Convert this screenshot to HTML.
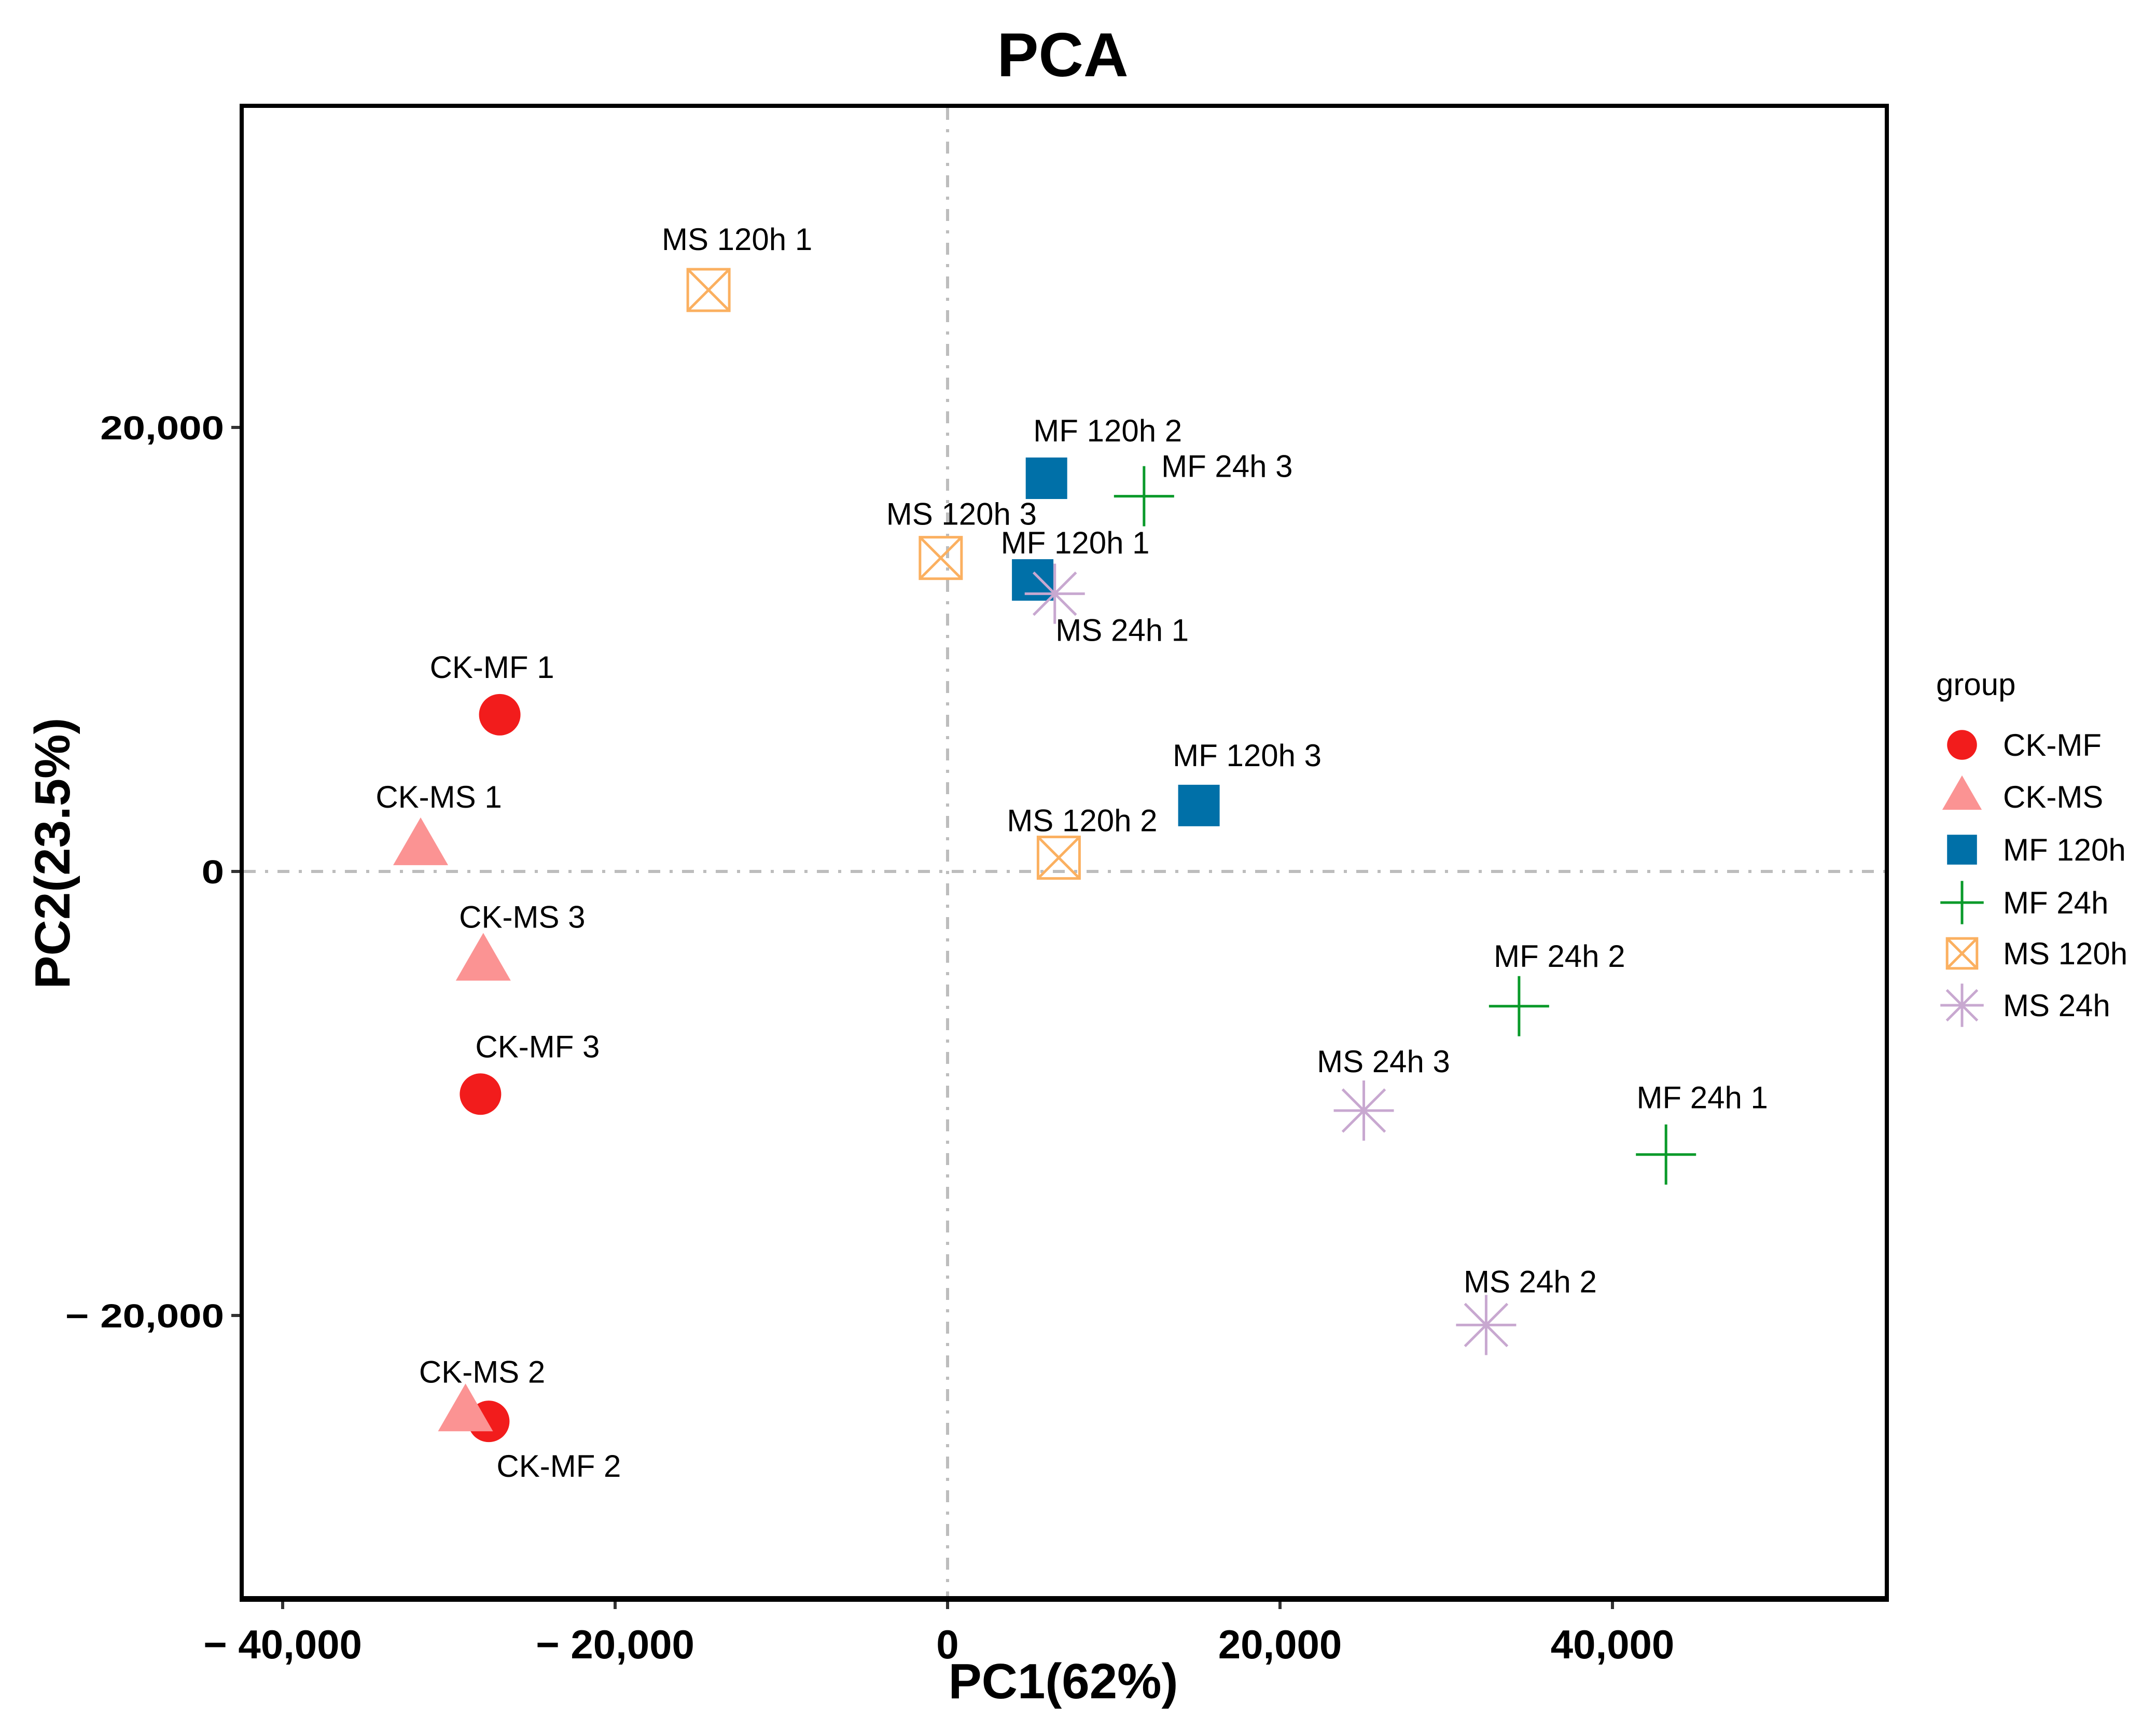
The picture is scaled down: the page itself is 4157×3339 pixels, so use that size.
<!DOCTYPE html>
<html><head><meta charset="utf-8"><style>
html,body{margin:0;padding:0;background:#fff;}
svg{display:block;font-family:"Liberation Sans",sans-serif;}
</style></head><body>
<svg id="chart" width="4157" height="3339" viewBox="0 0 4157 3339" xmlns="http://www.w3.org/2000/svg">
<rect width="4157" height="3339" fill="#fff"/>
<text x="2049" y="147" font-size="120" font-weight="bold" text-anchor="middle">PCA</text>
<g id="plot"></g>
<rect x="466" y="204" width="3172" height="2877" fill="none" stroke="#000" stroke-width="8"/>
<line x1="462" x2="3642" y1="3083" y2="3083" stroke="#000" stroke-width="10"/>
<text x="2050" y="3274" font-size="96" font-weight="bold" text-anchor="middle">PC1(62%)</text>
<text transform="translate(134,1645) rotate(-90)" font-size="96" font-weight="bold" text-anchor="middle">PC2(23.5%)</text>
<g id="legend"></g>
</svg>
<script>
const groups = ["CK-MF","CK-MS","MF 120h","MF 24h","MS 120h","MS 24h"];
const sampleNames = ["CK-MF 1","CK-MF 2","CK-MF 3","CK-MS 1","CK-MS 2","CK-MS 3","MF 120h 1","MF 120h 2","MF 120h 3","MF 24h 1","MF 24h 2","MF 24h 3","MS 120h 1","MS 120h 2","MS 120h 3","MS 24h 1","MS 24h 2","MS 24h 3"];
const sampleGroup = [0,0,0,1,1,1,2,2,2,3,3,3,4,4,4,5,5,5];
const pc1 = [-26940,-27600,-28100,-31700,-29000,-27930,5120,5950,15120,43220,34380,11820,-14380,6690,-410,6450,32400,25040];
const pc2 = [7060,-24770,-10030,1100,-24400,-4100,13130,17710,2970,-12750,-6070,16900,26190,620,14120,12510,-20430,-10770];
const xTicks = [-40000,-20000,0,20000,40000];
const yTicks = [-20000,0,20000];
const xTickLabels = ["\u2212 40,000","\u2212 20,000","0","20,000","40,000"];
const yTickLabels = ["\u2212 20,000","0","20,000"];
// label offsets (px) from point, from ggrepel placement
const labelDx = [-15,135,110,35,32,75,82,118,93,70,78,160,55,45,40,130,85,38];
const labelDy = [-92,86,-92,-97,-80,-88,-72,-92,-97,-110,-97,-58,-98,-72,-85,70,-84,-95];

const colors = ["#f21c1c","#fb9393","#0070a8","#0a9a2a","#fbb060","#c8a8d0"];
const NS="http://www.w3.org/2000/svg";
const X0=1827, XS=641/20000, Y0=1680, YS=856/20000;
const sx=v=>X0+v*XS, sy=v=>Y0-v*YS;
function mk(t,a,p){const e=document.createElementNS(NS,t);for(const k in a)e.setAttribute(k,a[k]);p.appendChild(e);return e;}
const plot=document.getElementById('plot');
const zx=mk('line',{x1:sx(0),x2:sx(0),y1:208,y2:3077,stroke:'#bdbdbd','stroke-width':6,'stroke-dasharray':'23 18 6 18'},plot);


const zy=mk('line',{x1:470,x2:3634,y1:sy(0),y2:sy(0),stroke:'#bdbdbd','stroke-width':6,'stroke-dasharray':'23 18 6 18'},plot);


xTicks.forEach((t,i)=>{
  const l=mk('line',{x1:sx(t),x2:sx(t),y1:3084,y2:3102,stroke:'#333','stroke-width':6},plot);
  
  
  const tx=mk('text',{x:sx(t),y:3197,'font-size':78,'font-weight':'bold','text-anchor':'middle'},plot);
  tx.textContent=xTickLabels[i];
  
  
});
yTicks.forEach((t,i)=>{
  const l=mk('line',{x1:446,x2:462,y1:sy(t),y2:sy(t),stroke:'#333','stroke-width':6},plot);
  
  
  const tx=mk('text',{x:0,y:0,'font-size':64,'font-weight':'bold','text-anchor':'end',transform:`translate(432,${sy(t)+23}) scale(1.22,1)`},plot);
  tx.textContent=yTickLabels[i];
  
  
});
function shape(g,x,y,s,p){
  const c=colors[g];const el=mk('g',{},p);
  if(g===0){mk('circle',{cx:x,cy:y,r:40*s,fill:c},el);}
  else if(g===1){const w=53*s,h=92*s;mk('polygon',{points:`${x},${y-h*0.62} ${x-w},${y+h*0.38} ${x+w},${y+h*0.38}`,fill:c},el);}
  else if(g===2){mk('rect',{x:x-40*s,y:y-40*s,width:80*s,height:80*s,fill:c},el);}
  else if(g===3){mk('path',{d:`M${x-58*s},${y}H${x+58*s}M${x},${y-58*s}V${y+58*s}`,stroke:c,'stroke-width':5,fill:'none'},el);}
  else if(g===4){const r=40*s;mk('rect',{x:x-r,y:y-r,width:2*r,height:2*r,fill:'none',stroke:c,'stroke-width':5},el);mk('path',{d:`M${x-r},${y-r}L${x+r},${y+r}M${x+r},${y-r}L${x-r},${y+r}`,stroke:c,'stroke-width':5},el);}
  else {const r=58*s,d=r*0.707;mk('path',{d:`M${x-r},${y}H${x+r}M${x},${y-r}V${y+r}M${x-d},${y-d}L${x+d},${y+d}M${x+d},${y-d}L${x-d},${y+d}`,stroke:c,'stroke-width':5,fill:'none'},el);}
  return el;
}
[0,1,2,3,4,5].forEach(g=>{
  sampleNames.forEach((n,i)=>{
    if(sampleGroup[i]!==g)return;
    const m=shape(g,sx(pc1[i]),sy(pc2[i]),1,plot);
    
    
  });
});
sampleNames.forEach((n,i)=>{
  const t=mk('text',{x:sx(pc1[i])+labelDx[i],y:sy(pc2[i])+labelDy[i]+21,'font-size':60,'text-anchor':'middle',fill:'#000'},plot);
  t.textContent=n;
  
  
});
const lg=document.getElementById('legend');
const gt=mk('text',{x:3733,y:1340,'font-size':60},lg);
gt.textContent='group';


const legY=[1436,1536,1638,1740,1838,1938];
groups.forEach((g,i)=>{
  const e=mk('g',{},lg);
  
  
  shape(i,3783,legY[i],0.72,e);
  const t=mk('text',{x:3862,y:legY[i]+21,'font-size':60},e);
  t.textContent=g;
});
</script>
</body></html>
